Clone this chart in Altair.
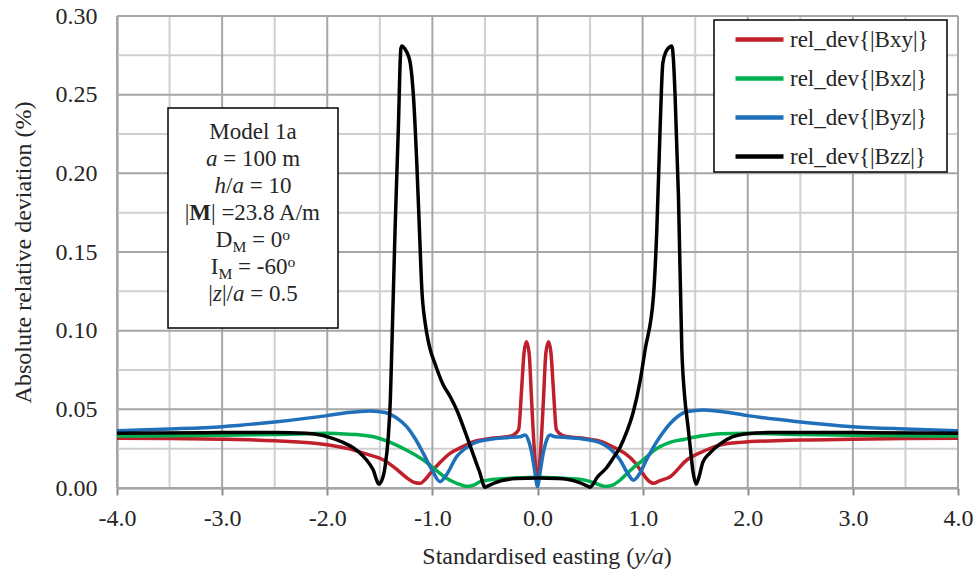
import altair as alt
import pandas as pd

FONT = "Liberation Serif"
TEXT_COLOR = "#262626"
AXIS_COLOR = "#8c8c8c"
GRID_MAJOR = "#a6a6a6"
GRID_MINOR = "#d0d0d0"

PLOT_W, PLOT_H = 841, 472

# ---------------- series values (standardised easting y/a, deviation %) ----------------
bxy_x = [-4.0, -3.5, -3.0, -2.5, -2.0, -1.8, -1.6, -1.47, -1.35, -1.244, -1.17, -1.117,
         -1.06, -1.02, -0.93, -0.832, -0.72, -0.61, -0.45, -0.29, -0.229, -0.18, -0.15,
         -0.128, -0.105, -0.08, -0.055, -0.028, 0.0, 0.028, 0.055, 0.08, 0.105, 0.128,
         0.15, 0.18, 0.229, 0.29, 0.45, 0.61, 0.72, 0.832, 0.93, 1.0, 1.05, 1.103, 1.16,
         1.262, 1.42, 1.6, 1.737, 1.93, 2.5, 3.0, 3.5, 4.0]
bxy_y = [0.0316, 0.0314, 0.031, 0.030, 0.0275, 0.025, 0.021, 0.018, 0.0125, 0.0065,
         0.0035, 0.003, 0.006, 0.0093, 0.016, 0.022, 0.026, 0.0294, 0.0315, 0.0326,
         0.0337, 0.037, 0.064, 0.086, 0.093, 0.086, 0.054, 0.022, 0.004, 0.022, 0.054,
         0.086, 0.093, 0.086, 0.064, 0.037, 0.0337, 0.0326, 0.0315, 0.0294, 0.026,
         0.022, 0.016, 0.0093, 0.005, 0.003, 0.0045, 0.0072, 0.0178, 0.024, 0.0273,
         0.029, 0.0305, 0.031, 0.0314, 0.0316]

bxz_x = [-4.0, -3.0, -2.5, -2.0, -1.88, -1.72, -1.56, -1.4, -1.244, -1.086, -0.927,
         -0.85, -0.768, -0.673, -0.6, -0.546, -0.45, -0.293, -0.15, 0.0, 0.15, 0.293,
         0.45, 0.55, 0.65, 0.72, 0.786, 0.865, 0.94, 1.0, 1.1, 1.26, 1.4, 1.55, 1.74,
         1.99, 2.5, 3.0, 4.0]
bxz_y = [0.033, 0.0335, 0.034, 0.0348, 0.0345, 0.034, 0.0326, 0.029, 0.024, 0.0178,
         0.0093, 0.0055, 0.003, 0.001, 0.002, 0.004, 0.0052, 0.006, 0.0065, 0.0068,
         0.0065, 0.006, 0.005, 0.003, 0.001, 0.002, 0.005, 0.010, 0.0145, 0.0175,
         0.0235, 0.029, 0.031, 0.033, 0.0345, 0.0348, 0.034, 0.0335, 0.033]

byz_x = [-4.0, -3.5, -3.0, -2.5, -2.0, -1.8, -1.59, -1.45, -1.35, -1.244, -1.16, -1.086,
         -1.0, -0.927, -0.87, -0.768, -0.69, -0.61, -0.451, -0.3, -0.166, -0.118,
         -0.087, -0.054, -0.023, 0.0, 0.023, 0.054, 0.087, 0.118, 0.166, 0.3, 0.451,
         0.61, 0.69, 0.786, 0.86, 0.913, 0.97, 1.03, 1.103, 1.18, 1.262, 1.42, 1.578,
         1.864, 2.0, 2.5, 3.0, 3.5, 4.0]
byz_y = [0.0364, 0.0375, 0.039, 0.042, 0.046, 0.048, 0.049, 0.048, 0.045, 0.039, 0.031,
         0.022, 0.011, 0.004, 0.008, 0.020, 0.025, 0.0284, 0.031, 0.032, 0.0326, 0.0337,
         0.0305, 0.022, 0.0093, 0.001, 0.0093, 0.022, 0.0305, 0.0337, 0.0326, 0.032,
         0.031, 0.0284, 0.025, 0.0178, 0.009, 0.005, 0.009, 0.017, 0.026, 0.034, 0.041,
         0.0485, 0.0496, 0.0475, 0.046, 0.042, 0.039, 0.0375, 0.0364]

bzz_x = [-4.0, -3.0, -2.5, -2.2, -2.05, -1.95, -1.85, -1.75, -1.67, -1.6, -1.56, -1.53,
         -1.51, -1.48, -1.45, -1.42, -1.40, -1.386, -1.355, -1.324, -1.30, -1.29, -1.26,
         -1.23, -1.21, -1.18, -1.148, -1.123, -1.10, -1.069, -1.028, -0.97, -0.9,
         -0.83, -0.768, -0.69, -0.61, -0.55, -0.50, -0.45, -0.35, -0.2, 0.0, 0.2, 0.35,
         0.45, 0.50, 0.57, 0.659, 0.72, 0.786, 0.85, 0.91, 0.976, 1.024, 1.103, 1.135,
         1.166, 1.192, 1.22, 1.25, 1.278, 1.295, 1.309, 1.341, 1.373, 1.40, 1.43, 1.453,
         1.48, 1.51, 1.54, 1.573, 1.637, 1.737, 1.858, 2.0, 2.2, 2.5, 3.0, 4.0]
bzz_y = [0.0348, 0.0352, 0.0352, 0.0348, 0.0335, 0.0315, 0.029, 0.0255, 0.021, 0.0155,
         0.011, 0.005, 0.0025, 0.005, 0.0135, 0.032, 0.056, 0.088, 0.164, 0.228, 0.279,
         0.281, 0.279, 0.275, 0.27, 0.249, 0.206, 0.164, 0.126, 0.105, 0.090, 0.078,
         0.066, 0.058, 0.0496, 0.036, 0.021, 0.010, 0.0005, 0.002, 0.0045, 0.006, 0.0064,
         0.006, 0.0045, 0.002, 0.0005, 0.007, 0.013, 0.019, 0.026, 0.036, 0.048,
         0.068, 0.088, 0.122, 0.164, 0.228, 0.270, 0.277, 0.280, 0.281, 0.27, 0.249,
         0.185, 0.088, 0.058, 0.04, 0.026, 0.01, 0.0025, 0.008, 0.0165, 0.022, 0.028,
         0.0326, 0.0345, 0.0352, 0.0352, 0.0352, 0.0348]

series_names = ["rel_dev{|Bxy|}", "rel_dev{|Bxz|}", "rel_dev{|Byz|}", "rel_dev{|Bzz|}"]
series_colors = ["#C0202B", "#00B050", "#1F6FBA", "#000000"]
series_xs = [bxy_x, bxz_x, byz_x, bzz_x]
series_ys = [bxy_y, bxz_y, byz_y, bzz_y]

# axis ticks and grid positions
x_ticks = [-4.0, -3.0, -2.0, -1.0, 0.0, 1.0, 2.0, 3.0, 4.0]
x_minor = [-3.5, -2.5, -1.5, -0.5, 0.5, 1.5, 2.5, 3.5]
y_ticks = [0.0, 0.05, 0.10, 0.15, 0.20, 0.25, 0.30]
y_minor = [0.025, 0.075, 0.125, 0.175, 0.225, 0.275]

y_title = "Absolute relative deviation (%)"
x_title_parts = [("Standardised easting (", "roman"), ("y/a", "italic"), (")", "roman")]

model_lines = [
    [("Model 1a", "roman", 1.0, 0)],
    [("a", "italic", 1.0, 0), (" = 100 m", "roman", 1.0, 0)],
    [("h", "italic", 1.0, 0), ("/", "roman", 1.0, 0), ("a", "italic", 1.0, 0),
     (" = 10", "roman", 1.0, 0)],
    [("|", "roman", 1.0, 0), ("M", "bold", 1.0, 0), ("| =23.8 A/m", "roman", 1.0, 0)],
    [("D", "roman", 1.0, 0), ("M", "roman", 0.68, -5), (" = 0", "roman", 1.0, 0),
     ("o", "roman", 0.68, 7)],
    [("I", "roman", 1.0, 0), ("M", "roman", 0.68, -5), (" = -60", "roman", 1.0, 0),
     ("o", "roman", 0.68, 7)],
    [("|", "roman", 1.0, 0), ("z", "italic", 1.0, 0), ("|/", "roman", 1.0, 0),
     ("a", "italic", 1.0, 0), (" = 0.5", "roman", 1.0, 0)],
]

# ---------------- tables ----------------
frames = [pd.DataFrame({"x": xs, "y": ys, "series": name})
          for name, xs, ys in zip(series_names, series_xs, series_ys)]
lines_df = pd.concat(frames, ignore_index=True)
one_row = pd.DataFrame({"k": [0]})

# ---------------- scales / axes ----------------
x_scale = alt.Scale(domain=[-4, 4], nice=False, zero=False)
y_scale = alt.Scale(domain=[0, 0.3], nice=False, zero=False)

x_axis = alt.Axis(values=x_ticks, format=".1f",
                  labelExpr="replace(datum.label, '\u2212', '-')",
                  grid=False, domainColor=AXIS_COLOR, domainWidth=2,
                  tickColor=AXIS_COLOR, tickWidth=2, tickSize=7,
                  labelFont=FONT, labelFontSize=24, labelColor=TEXT_COLOR,
                  labelPadding=11, labelFlush=False, labelOverlap=False, title=None)
y_axis = alt.Axis(values=y_ticks, format=".2f", grid=False,
                  domainColor=AXIS_COLOR, domainWidth=2, ticks=False, tickSize=0,
                  labelFont=FONT, labelFontSize=24, labelColor=TEXT_COLOR,
                  labelPadding=20, labelFlush=False, labelOverlap=False,
                  title=y_title, titleFont=FONT, titleFontSize=24,
                  titleFontWeight="normal", titleColor=TEXT_COLOR, titlePadding=20)


def xenc():
    return alt.X("x:Q", scale=x_scale, axis=x_axis)


def yenc():
    return alt.Y("y:Q", scale=y_scale, axis=y_axis)


# ---------------- grid ----------------
grid_layers = [
    alt.Chart(pd.DataFrame({"x": x_minor})).mark_rule(color=GRID_MINOR, strokeWidth=2).encode(x=xenc()),
    alt.Chart(pd.DataFrame({"y": y_minor})).mark_rule(color=GRID_MINOR, strokeWidth=2).encode(y=yenc()),
    alt.Chart(pd.DataFrame({"x": x_ticks})).mark_rule(color=GRID_MAJOR, strokeWidth=2).encode(x=xenc()),
    alt.Chart(pd.DataFrame({"y": y_ticks})).mark_rule(color=GRID_MAJOR, strokeWidth=2).encode(y=yenc()),
]

# ---------------- curves ----------------
color_enc = alt.Color(
    "series:N",
    scale=alt.Scale(domain=series_names, range=series_colors),
    legend=alt.Legend(title=None, orient="none", legendX=616, legendY=-3,
                      direction="vertical", symbolType="stroke", symbolSize=2304,
                      symbolStrokeWidth=4.5, labelFont=FONT, labelFontSize=23,
                      labelColor=TEXT_COLOR, labelOffset=4, rowPadding=0,
                      padding=0, labelLimit=400),
)

line_layers = [
    alt.Chart(lines_df).transform_filter(alt.datum.series == name)
    .mark_line(strokeWidth=3.5, interpolate="monotone")
    .encode(x=xenc(), y=yenc(), color=color_enc)
    for name in series_names
]

# ---------------- text helpers (Times-compatible advance widths) ----------------
ROMAN = {" ": 250, "(": 333, ")": 333, "-": 333, ".": 250, "/": 278, "=": 564, "|": 200,
         "A": 722, "D": 722, "I": 333, "M": 889, "S": 556, "a": 444, "d": 500, "e": 444,
         "g": 500, "h": 500, "i": 278, "l": 278, "m": 778, "n": 500, "o": 500, "r": 333,
         "s": 389, "t": 278, "z": 444, "y": 500}
ITALIC = {"a": 500, "h": 500, "y": 444, "z": 389, "/": 278}
BOLD = {"M": 944}


def advance(s, size, style):
    table = ITALIC if style == "italic" else BOLD if style == "bold" else ROMAN
    return sum(table.get(c, ROMAN.get(c, 500)) for c in s) * size / 1000.0


def text_line(segments, cx, baseline, base_size):
    sizes = [base_size * seg[2] for seg in segments]
    widths = [advance(seg[0], sz, seg[1]) for seg, sz in zip(segments, sizes)]
    x = cx - sum(widths) / 2.0
    out = []
    for (s, style, _, rise), sz, w in zip(segments, sizes, widths):
        lead = len(s) - len(s.lstrip(" "))
        body = s.strip(" ")
        if body:
            out.append(
                alt.Chart(one_row).mark_text(
                    text=body, font=FONT, fontSize=sz,
                    fontStyle="italic" if style == "italic" else "normal",
                    fontWeight="bold" if style == "bold" else "normal",
                    align="left", baseline="alphabetic", color=TEXT_COLOR,
                ).encode(x=alt.value(x + advance(" " * lead, sz, "roman")),
                         y=alt.value(baseline - rise))
            )
        x += w
    return out


# ---------------- annotation box ----------------
box_layer = alt.Chart(one_row).mark_rect(fill="white", stroke="black", strokeWidth=1.5).encode(
    x=alt.value(51), x2=alt.value(221), y=alt.value(92), y2=alt.value(312))

box_text = []
for i, segs in enumerate(model_lines):
    box_text += text_line(segs, 136, 123.2 + 26.9 * i, 23)

legend_frame = alt.Chart(one_row).mark_rect(fill="white", stroke="black", strokeWidth=1.5).encode(
    x=alt.value(597), x2=alt.value(830), y=alt.value(4), y2=alt.value(156))

x_title_layers = text_line([(t, s, 1.0, 0) for t, s in x_title_parts], 430, 548, 24)

chart = alt.layer(
    *grid_layers, *line_layers, box_layer, *box_text, legend_frame, *x_title_layers
).properties(
    width=PLOT_W, height=PLOT_H,
    padding={"left": 117, "top": 16, "right": 18, "bottom": 88},
    autosize=alt.AutoSizeParams(type="none"),
    background="white",
).configure_view(stroke="transparent")

chart.save("out.html", embed_options={"renderer": "svg", "actions": False})
